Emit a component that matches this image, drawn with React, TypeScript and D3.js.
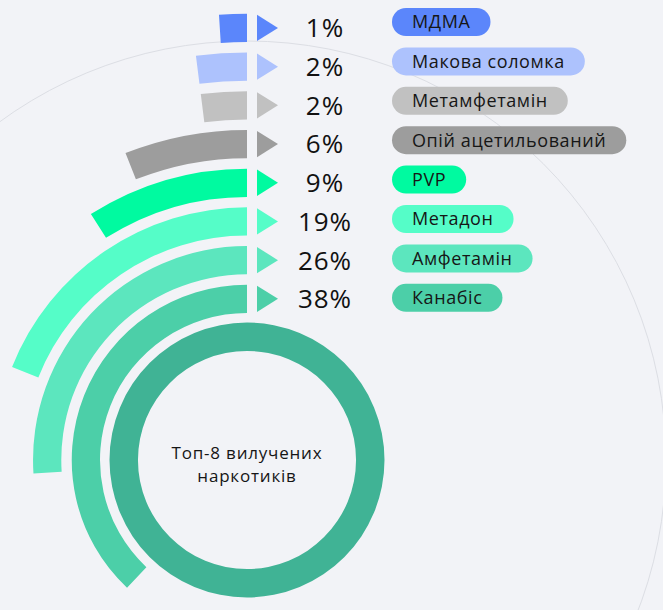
import React, { useEffect, useRef } from 'react';
import * as d3 from 'd3';

const categories = ['МДМА', 'Макова соломка', 'Метамфетамін', 'Опій ацетильований', 'PVP', 'Метадон', 'Амфетамін', 'Канабіс'];
const values = [1, 2, 2, 6, 9, 19, 26, 38];
const colors = ['#5b86fb', '#adc2fd', '#c1c1c1', '#9d9d9d', '#00faa0', '#55fdc8', '#5ce6be', '#4ccfa8'];
const centerLines = ['Топ-8 вилучених', 'наркотиків'];
const ringColor = '#40b395';

const W = 663;
const H = 610;
const cx = 247;
const cy = 460;
const FONT = "'Open Sans', 'Noto Sans', sans-serif";

export default function App() {
  const ref = useRef<SVGSVGElement | null>(null);

  useEffect(() => {
    const svg = d3.select(ref.current);
    svg.selectAll('*').remove();

    svg.append('rect').attr('width', W).attr('height', H).attr('fill', '#f2f3f7');

    const g = svg.append('g').attr('transform', `translate(${cx},${cy})`);

    // faint background circle
    g.append('circle').attr('r', 419).attr('fill', 'none').attr('stroke', '#dcdee4').attr('stroke-width', 1);

    // inner full ring
    const ringArc = d3.arc<any>().innerRadius(109).outerRadius(137.5).startAngle(0).endAngle(2 * Math.PI);
    g.append('path').attr('d', ringArc({}) as string).attr('fill', ringColor);

    const rScale = d3.scaleBand<string>()
      .domain([...categories].reverse())
      .range([147, 446.2])
      .paddingInner(0.27)
      .paddingOuter(0);
    const bw = rScale.bandwidth();
    const aScale = d3.scaleLinear().domain([0, 100]).range([0, -2 * Math.PI]);

    const arc = d3.arc<any>()
      .innerRadius((d: any) => rScale(d.c) as number)
      .outerRadius((d: any) => (rScale(d.c) as number) + bw)
      .startAngle(0)
      .endAngle((d: any) => aScale(d.v));

    const data = categories.map((c, i) => ({ c, v: values[i], color: colors[i] }));

    g.selectAll('path.bar').data(data).enter().append('path')
      .attr('class', 'bar')
      .attr('d', (d: any) => arc(d) as string)
      .attr('fill', (d) => d.color);

    // triangles and percentages
    data.forEach((d) => {
      const rowY = cy - ((rScale(d.c) as number) + bw / 2);
      const th = bw * 0.93;
      svg.append('path')
        .attr('d', `M${257},${rowY - th / 2}L${278},${rowY}L${257},${rowY + th / 2}Z`)
        .attr('fill', d.color);
      svg.append('text')
        .attr('x', 325)
        .attr('y', rowY)
        .attr('dy', '0.36em')
        .attr('text-anchor', 'middle')
        .attr('font-family', FONT)
        .attr('font-size', 26)
        .attr('letter-spacing', 1)
        .attr('fill', '#111')
        .text(`${d.v}%`);
    });

    // legend pills
    const lScale = d3.scaleBand<string>()
      .domain(categories)
      .range([8, 311.8])
      .paddingInner(0.29)
      .paddingOuter(0);
    const ph = lScale.bandwidth();
    data.forEach((d) => {
      const y = lScale(d.c) as number;
      const lg = svg.append('g').attr('transform', `translate(392,${y})`);
      const rect = lg.append('rect').attr('height', ph).attr('rx', ph / 2).attr('fill', d.color);
      const t = lg.append('text')
        .attr('x', 20)
        .attr('y', ph / 2)
        .attr('dy', '0.36em')
        .attr('font-family', FONT)
        .attr('font-size', 18)
        .attr('letter-spacing', 0.6)
        .attr('fill', '#161616')
        .text(d.c);
      const len = (t.node() as SVGTextElement).getComputedTextLength();
      rect.attr('width', len + 40);
    });

    // center text
    centerLines.forEach((line, i) => {
      svg.append('text')
        .attr('x', cx)
        .attr('y', 459 + i * 22.5)
        .attr('text-anchor', 'middle')
        .attr('font-family', FONT)
        .attr('font-size', 17)
        .attr('letter-spacing', 0.8)
        .attr('fill', '#161616')
        .text(line);
    });
  }, []);

  return (
    <div style={{ position: 'fixed', left: 0, top: 0, width: W, height: H, background: '#f2f3f7' }}>
      <svg ref={ref} width={W} height={H} style={{ display: 'block' }} />
    </div>
  );
}
